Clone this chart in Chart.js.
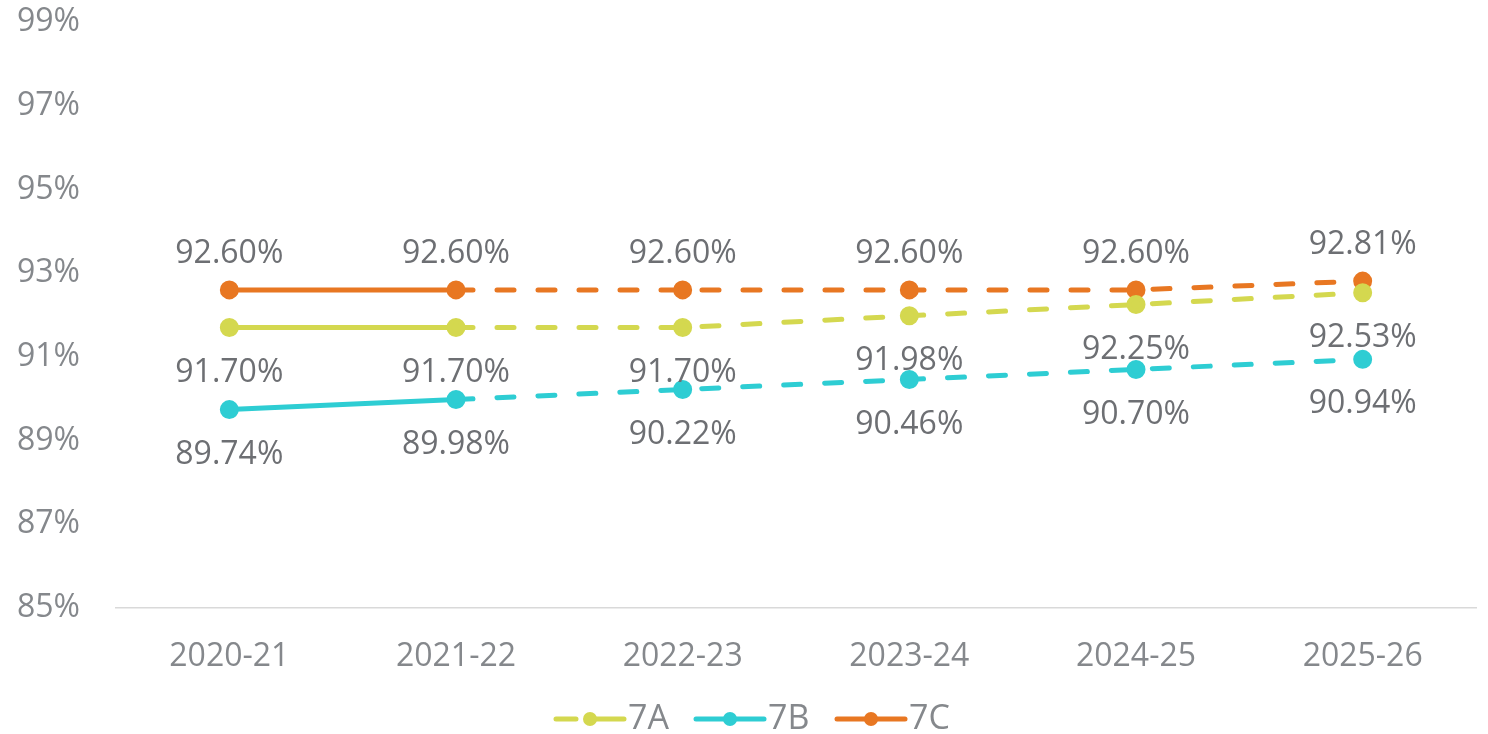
<!DOCTYPE html>
<html>
<head>
<meta charset="utf-8">
<script src="https://cdn.jsdelivr.net/npm/chart.js@4.4.1/dist/chart.umd.min.js"></script>
<style>
  html, body { margin: 0; padding: 0; background: #ffffff; }
  #wrap { width: 1488px; height: 734px; position: relative; }
</style>
</head>
<body>
<div id="wrap"><canvas id="c" width="1488" height="734"></canvas></div>
<script>
const categories = ["2020-21", "2021-22", "2022-23", "2023-24", "2024-25", "2025-26"];
const seriesNames = ["7A", "7B", "7C"];
const values7A = [91.70, 91.70, 91.70, 91.98, 92.25, 92.53];
const values7B = [89.74, 89.98, 90.22, 90.46, 90.70, 90.94];
const values7C = [92.60, 92.60, 92.60, 92.60, 92.60, 92.81];
const yTicks = [85, 87, 89, 91, 93, 95, 97, 99];
const solidUntil = 1; // segments before this index are solid, the rest dashed

const colors = { "7A": "#d4d84f", "7B": "#2ecdd3", "7C": "#e87722" };
const labelPos = { "7A": "below", "7B": "below", "7C": "above" };
const FONT = "'Open Sans', sans-serif";
const TEXT = "#6d6f73";
const TICK = "#85888c";
const DASH = [17, 24];

function makeDataset(name, data) {
  return {
    label: name,
    data: data,
    borderColor: colors[name],
    backgroundColor: colors[name],
    pointBackgroundColor: colors[name],
    pointBorderColor: colors[name],
    borderWidth: 5,
    pointRadius: 7,
    pointHoverRadius: 7,
    borderCapStyle: 'round',
    tension: 0,
    segment: {
      borderDash: ctx => ctx.p0DataIndex >= solidUntil ? DASH : undefined
    }
  };
}

const dataLabelPlugin = {
  id: 'dataLabels',
  afterDatasetsDraw(chart) {
    const ctx = chart.ctx;
    ctx.save();
    ctx.font = "32px " + FONT;
    ctx.fillStyle = TEXT;
    ctx.textAlign = 'center';
    ctx.textBaseline = 'middle';
    chart.data.datasets.forEach((ds, i) => {
      const meta = chart.getDatasetMeta(i);
      meta.data.forEach((pt, j) => {
        const v = ds.data[j];
        const off = labelPos[ds.label] === 'above' ? -36 : 45;
        ctx.fillText(v.toFixed(2) + "%", pt.x, pt.y + off);
      });
    });
    ctx.restore();
  }
};

const legendPlugin = {
  id: 'customLegend',
  afterDraw(chart) {
    const ctx = chart.ctx;
    ctx.save();
    const y = 719;
    const items = [
      { name: "7A", x0: 556, dashed: true },
      { name: "7B", x0: 696, dashed: false },
      { name: "7C", x0: 837, dashed: false }
    ];
    ctx.font = "34px " + FONT;
    ctx.textBaseline = 'middle';
    items.forEach(it => {
      const c = colors[it.name];
      ctx.strokeStyle = c;
      ctx.fillStyle = c;
      ctx.lineWidth = 5;
      ctx.lineCap = 'round';
      if (it.dashed) {
        ctx.beginPath();
        ctx.moveTo(it.x0, y); ctx.lineTo(it.x0 + 20, y);
        ctx.moveTo(it.x0 + 34, y); ctx.lineTo(it.x0 + 68, y);
        ctx.stroke();
      } else {
        ctx.beginPath();
        ctx.moveTo(it.x0, y); ctx.lineTo(it.x0 + 68, y);
        ctx.stroke();
      }
      ctx.beginPath();
      ctx.arc(it.x0 + 34, y, 7, 0, Math.PI * 2);
      ctx.fill();
      ctx.fillStyle = TICK;
      ctx.textAlign = 'left';
      ctx.fillText(it.name, it.x0 + 72, y);
    });
    ctx.restore();
  }
};

new Chart(document.getElementById('c'), {
  type: 'line',
  data: {
    labels: categories,
    datasets: [
      makeDataset("7A", values7A),
      makeDataset("7B", values7B),
      makeDataset("7C", values7C)
    ]
  },
  options: {
    responsive: false,
    animation: false,
    devicePixelRatio: 1,
    layout: { padding: { top: 22, right: 8, bottom: 60, left: 0 } },
    plugins: {
      legend: { display: false },
      tooltip: { enabled: false }
    },
    scales: {
      x: {
        offset: true,
        grid: { display: false, drawTicks: false },
        border: { display: true, color: "#d9d9d9", width: 1.5 },
        ticks: { color: TICK, font: { family: FONT, size: 32 }, padding: 30, maxRotation: 0 },
        afterFit(s) { s.height = 66; s.paddingLeft = 0; s.paddingRight = 0; }
      },
      y: {
        min: 85, max: 99,
        afterBuildTicks(s) { s.ticks = yTicks.map(v => ({ value: v })); },
        grid: { display: false, drawTicks: false },
        border: { display: false },
        ticks: {
          color: TICK, font: { family: FONT, size: 32 }, padding: 36,
          callback: v => v + "%"
        },
        afterFit(s) { s.width = 116; s.paddingTop = 0; s.paddingBottom = 0; }
      }
    }
  },
  plugins: [dataLabelPlugin, legendPlugin]
});
</script>
</body>
</html>
